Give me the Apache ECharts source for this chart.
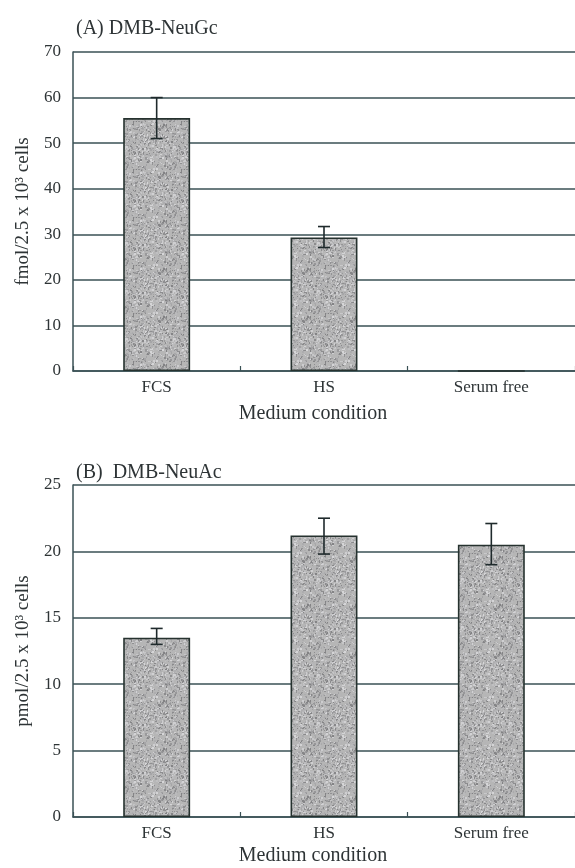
<!DOCTYPE html>
<html>
<head>
<meta charset="utf-8">
<script src="https://cdn.jsdelivr.net/npm/echarts@6/dist/echarts.min.js"></script>
<style>
  html, body { margin: 0; padding: 0; background: #ffffff; }
  #chart { width: 575px; height: 868px; }
</style>
</head>
<body>
<div id="chart"></div>
<script>
// Medium conditions on the x axis (shared by both panels)
const categories = ['FCS', 'HS', 'Serum free'];

// (A) DMB-NeuGc, fmol / 2.5 x 10^3 cells
const neuGcMean = [55.5, 29.3, 0];
const neuGcLow  = [51.0, 27.1, null];
const neuGcHigh = [60.0, 31.7, null];

// (B) DMB-NeuAc, pmol / 2.5 x 10^3 cells
const neuAcMean = [13.5, 21.2, 20.5];
const neuAcLow  = [13.0, 19.8, 19.0];
const neuAcHigh = [14.2, 22.5, 22.1];

// y-axis tick settings
const neuGcTicks = { min: 0, max: 70, interval: 10 };
const neuAcTicks = { min: 0, max: 25, interval: 5 };

const FONT = "'Liberation Serif', 'DejaVu Serif', serif";
const INK = '#2e3436';
const GRIDLINE = '#3a5055';

// Speckled grey fill for the bars (deterministic texture)
function makeSpeckle() {
  const c = document.createElement('canvas');
  c.width = 48; c.height = 48;
  const g = c.getContext('2d');
  g.fillStyle = '#b6b6b6';
  g.fillRect(0, 0, 48, 48);
  let s = 12345;
  const next = () => { s = (s * 1103515245 + 12345) & 0x7fffffff; return s / 0x7fffffff; };
  for (let i = 0; i < 800; i++) {
    const x = Math.floor(next() * 48), y = Math.floor(next() * 48);
    const v = Math.floor(130 + next() * 85);
    g.fillStyle = 'rgb(' + v + ',' + v + ',' + (v + 2) + ')';
    g.fillRect(x, y, 1 + Math.floor(next() * 2), 1 + Math.floor(next() * 2));
  }
  return c;
}
const speckle = makeSpeckle();

function errorData(low, high) {
  const out = [];
  for (let i = 0; i < categories.length; i++) {
    if (low[i] != null && high[i] != null) out.push([i, low[i], high[i]]);
  }
  return out;
}

function renderError(params, api) {
  const x = api.value(0);
  const lo = api.coord([x, api.value(1)]);
  const hi = api.coord([x, api.value(2)]);
  const half = 6;
  const style = { stroke: '#1f2a2c', lineWidth: 1.6 };
  return {
    type: 'group',
    children: [
      { type: 'line', shape: { x1: hi[0], y1: hi[1], x2: lo[0], y2: lo[1] }, style: style },
      { type: 'line', shape: { x1: hi[0] - half, y1: hi[1], x2: hi[0] + half, y2: hi[1] }, style: style },
      { type: 'line', shape: { x1: lo[0] - half, y1: lo[1], x2: lo[0] + half, y2: lo[1] }, style: style }
    ]
  };
}

function xAxisFor(gridIndex, nameGap) {
  return {
    type: 'category',
    gridIndex: gridIndex,
    data: categories,
    boundaryGap: true,
    axisLine: { lineStyle: { color: GRIDLINE, width: 1.5 } },
    axisTick: { show: true, inside: true, length: 5, lineStyle: { color: GRIDLINE, width: 1.2 } },
    axisLabel: { color: INK, fontFamily: FONT, fontSize: 17, margin: 8 },
    name: 'Medium condition',
    nameLocation: 'middle',
    nameGap: nameGap,
    nameTextStyle: { color: INK, fontFamily: FONT, fontSize: 20, padding: [0, 22, 0, 0] }
  };
}

function yAxisFor(gridIndex, ticks, name) {
  return {
    type: 'value',
    gridIndex: gridIndex,
    min: ticks.min,
    max: ticks.max,
    interval: ticks.interval,
    axisLine: { show: true, lineStyle: { color: GRIDLINE, width: 1.5 } },
    axisTick: { show: false },
    axisLabel: { color: INK, fontFamily: FONT, fontSize: 17, margin: 12 },
    splitLine: { show: true, lineStyle: { color: GRIDLINE, width: 1.5 } },
    name: name,
    nameLocation: 'middle',
    nameGap: 40,
    nameTextStyle: { color: INK, fontFamily: FONT, fontSize: 19 }
  };
}

function barSeries(idx, values) {
  return {
    type: 'bar',
    xAxisIndex: idx,
    yAxisIndex: idx,
    data: values,
    barWidth: '40%',
    itemStyle: {
      color: { image: speckle, repeat: 'repeat' },
      borderColor: '#26322f',
      borderWidth: 1.6
    },
    silent: true,
    z: 2
  };
}

function errorSeries(idx, low, high) {
  return {
    type: 'custom',
    xAxisIndex: idx,
    yAxisIndex: idx,
    data: errorData(low, high),
    encode: { x: 0, y: [1, 2] },
    renderItem: renderError,
    silent: true,
    z: 3
  };
}

const chart = echarts.init(document.getElementById('chart'), null, { renderer: 'canvas' });
chart.setOption({
  animation: false,
  backgroundColor: '#ffffff',
  title: [
    { text: '(A) DMB-NeuGc', left: 71, top: 14,
      textStyle: { color: INK, fontFamily: FONT, fontSize: 20, fontWeight: 'normal' } },
    { text: '(B)  DMB-NeuAc', left: 71, top: 458,
      textStyle: { color: INK, fontFamily: FONT, fontSize: 20, fontWeight: 'normal' } }
  ],
  grid: [
    { left: 73, right: -5, top: 52, height: 319 },
    { left: 73, right: -5, top: 485, height: 332 }
  ],
  xAxis: [xAxisFor(0, 33), xAxisFor(1, 29)],
  yAxis: [
    yAxisFor(0, neuGcTicks, 'fmol/2.5 x 10\u00b3 cells'),
    yAxisFor(1, neuAcTicks, 'pmol/2.5 x 10\u00b3 cells')
  ],
  series: [
    barSeries(0, neuGcMean),
    errorSeries(0, neuGcLow, neuGcHigh),
    barSeries(1, neuAcMean),
    errorSeries(1, neuAcLow, neuAcHigh)
  ]
});
</script>
</body>
</html>
